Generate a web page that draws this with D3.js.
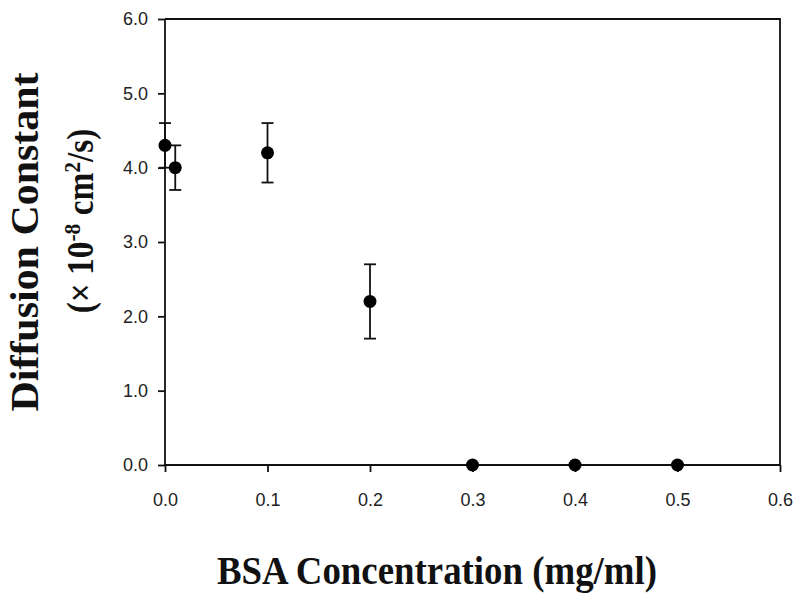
<!DOCTYPE html>
<html>
<head>
<meta charset="utf-8">
<script src="https://cdn.jsdelivr.net/npm/d3@7"></script>
<style>
  body { margin: 0; background: #fff; }
  .tick text { font-family: "Liberation Sans", Arial, sans-serif; font-size: 18px; fill: #222; }
  .lbl { font-family: "Liberation Serif", "Times New Roman", serif; font-weight: bold; fill: #111; }
</style>
</head>
<body>
<svg id="chart" width="800" height="602"></svg>
<script>
// BSA concentration (mg/ml) vs diffusion constant (x 10^-8 cm^2/s)
var conc = [0.0, 0.01, 0.1, 0.2, 0.3, 0.4, 0.5];
var diff = [4.3, 4.0, 4.2, 2.2, 0.0, 0.0, 0.0];
var errs = [0.3, 0.3, 0.4, 0.5, 0, 0, 0];
var xTicks = [0, 0.1, 0.2, 0.3, 0.4, 0.5, 0.6];
var yTicks = [0, 1, 2, 3, 4, 5, 6];

var svg = d3.select("#chart");
var L = 165, R = 780, T = 19, B = 465;

var x = d3.scaleLinear().domain([0, 0.6]).range([L, R]);
var y = d3.scaleLinear().domain([0, 6]).range([B, T]);

var pts = conc.map(function(c, i) { return {x: c, y: diff[i], e: errs[i]}; });

// frame
svg.append("path")
  .attr("d", "M" + L + "," + T + "H" + R + "V" + B)
  .attr("fill", "none").attr("stroke", "#111").attr("stroke-width", 1.8);

var xa = svg.append("g").attr("transform", "translate(0," + B + ")")
  .call(d3.axisBottom(x).tickValues(xTicks).tickSize(7).tickPadding(21).tickFormat(d3.format(".1f")));
var ya = svg.append("g").attr("transform", "translate(" + L + ",0)")
  .call(d3.axisLeft(y).tickValues(yTicks).tickSize(7).tickPadding(10).tickFormat(d3.format(".1f")));
[xa, ya].forEach(function(a) {
  a.selectAll("path,line").attr("stroke", "#111").attr("stroke-width", 1.8);
  a.select(".domain").attr("d", a === xa ? "M" + L + ",0H" + R : "M0," + T + "V" + B);
});

// error bars
var eb = svg.append("g").selectAll("g").data(pts.filter(function(d) { return d.e > 0; }))
  .enter().append("g").attr("stroke", "#111").attr("stroke-width", 1.8);
eb.append("line")
  .attr("x1", function(d) { return x(d.x); }).attr("x2", function(d) { return x(d.x); })
  .attr("y1", function(d) { return y(d.y + d.e); }).attr("y2", function(d) { return y(d.y - d.e); });
eb.selectAll(".cap").data(function(d) { return [[d.x, d.y + d.e], [d.x, d.y - d.e]]; })
  .enter().append("line").attr("class", "cap")
  .attr("x1", function(d) { return x(d[0]) - 6; }).attr("x2", function(d) { return x(d[0]) + 6; })
  .attr("y1", function(d) { return y(d[1]); }).attr("y2", function(d) { return y(d[1]); });

svg.append("g").selectAll("circle").data(pts).enter().append("circle")
  .attr("cx", function(d) { return x(d.x); })
  .attr("cy", function(d) { return y(d.y); })
  .attr("r", 6.5).attr("fill", "#000");

// labels
svg.append("text").attr("class", "lbl")
  .attr("x", 437).attr("y", 584).attr("text-anchor", "middle")
  .attr("font-size", 39).attr("textLength", 440).attr("lengthAdjust", "spacingAndGlyphs")
  .text("BSA Concentration (mg/ml)");

svg.append("text").attr("class", "lbl")
  .attr("transform", "translate(38,242) rotate(-90)")
  .attr("text-anchor", "middle").attr("font-size", 39)
  .attr("textLength", 339).attr("lengthAdjust", "spacingAndGlyphs")
  .text("Diffusion Constant");

var yl2 = svg.append("text").attr("class", "lbl")
  .attr("transform", "translate(93,221) rotate(-90) scale(0.9,1)")
  .attr("text-anchor", "middle").attr("font-size", 37);
yl2.append("tspan").text("(× 10");
yl2.append("tspan").attr("dy", -13).attr("font-size", 24).text("-8");
yl2.append("tspan").attr("dy", 13).text(" cm");
yl2.append("tspan").attr("dy", -13).attr("font-size", 24).text("2");
yl2.append("tspan").attr("dy", 13).text("/s)");
</script>
</body>
</html>
